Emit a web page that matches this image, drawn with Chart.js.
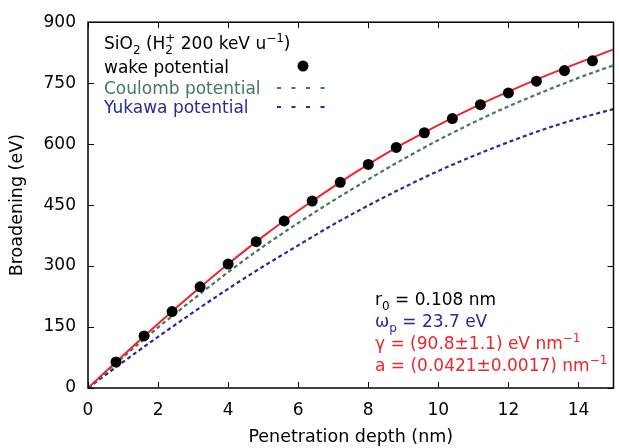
<!DOCTYPE html>
<html><head><meta charset="utf-8">
<script src="https://cdn.jsdelivr.net/npm/chart.js@4.4.1/dist/chart.umd.min.js"></script>
<style>html,body{margin:0;padding:0;background:#fff;} #wrap{width:619px;height:448px;}</style>
</head><body><div id="wrap"><canvas id="c" width="619" height="448"></canvas></div>
<script>
// ---- data ----
const curveX   = [0, 1, 2, 3, 4, 5, 6, 7, 8, 9, 10, 11, 12, 13, 14, 15];
const fitWake  = [0, 80, 158, 233, 305, 373, 436, 495, 550, 601, 647, 690, 729, 766, 800, 833];
const coulomb  = [0, 76, 149, 218, 285, 348, 406, 461, 513, 563, 610, 653, 693, 729, 763, 794];
const yukawa   = [0, 64, 126, 186, 244, 299, 351, 402, 449, 493, 534, 571, 605, 636, 663, 686];
const depthPts = [0.8, 1.6, 2.4, 3.2, 4.0, 4.8, 5.6, 6.4, 7.2, 8.0, 8.8, 9.6, 10.4, 11.2, 12.0, 12.8, 13.6, 14.4];
const wakePts  = [64, 128, 188, 249, 305, 360, 411, 460, 506, 550, 592, 628, 663, 697, 726, 755, 781, 805];
const xTicks   = [0, 2, 4, 6, 8, 10, 12, 14];
const yTicks   = [0, 150, 300, 450, 600, 750, 900];

const RED = 'rgb(238,38,44)', GREEN = 'rgb(72,120,90)', BLUE = 'rgb(42,42,150)';
const FAM = '"DejaVu Sans", sans-serif';

function rich(ctx, x, y, parts, color) {
  ctx.fillStyle = color;
  ctx.textBaseline = 'alphabetic';
  ctx.textAlign = 'left';
  let cx = x;
  for (const p of parts) {
    const [t, mode] = p;
    if (mode === 'supsub') {
      ctx.font = '12px ' + FAM;
      const w1 = ctx.measureText(t[0]).width, w2 = ctx.measureText(t[1]).width;
      ctx.fillText(t[0], cx, y - 7);
      ctx.fillText(t[1], cx, y + 5);
      cx += Math.max(w1, w2);
    } else if (mode === 'sub') {
      ctx.font = '12px ' + FAM;
      ctx.fillText(t, cx, y + 5);
      cx += ctx.measureText(t).width;
    } else if (mode === 'sup') {
      ctx.font = '12px ' + FAM;
      ctx.fillText(t, cx, y - 7);
      cx += ctx.measureText(t).width;
    } else {
      ctx.font = '17px ' + FAM;
      ctx.fillText(t, cx, y);
      cx += ctx.measureText(t).width;
    }
  }
  return cx;
}

const framePlugin = {
  id: 'frame',
  afterDraw(chart) {
    const {ctx, chartArea: a, scales} = chart;
    ctx.save();
    ctx.strokeStyle = '#000';
    ctx.lineWidth = 1.5;
    ctx.strokeRect(a.left, a.top, a.right - a.left, a.bottom - a.top);
    ctx.lineWidth = 1;
    const L = 6;
    ctx.beginPath();
    for (const v of xTicks) {
      const px = Math.round(scales.x.getPixelForValue(v)) + 0.5;
      ctx.moveTo(px, a.bottom); ctx.lineTo(px, a.bottom - L);
      ctx.moveTo(px, a.top); ctx.lineTo(px, a.top + L);
    }
    for (const v of yTicks) {
      const py = Math.round(scales.y.getPixelForValue(v)) + 0.5;
      ctx.moveTo(a.left, py); ctx.lineTo(a.left + L, py);
      ctx.moveTo(a.right, py); ctx.lineTo(a.right - L, py);
    }
    ctx.stroke();

    // key
    const kx = 104;
    rich(ctx, kx, 49, [['SiO',''],['2','sub'],[' (H',''],[['+','2'],'supsub'],[' 200 keV u',''],['\u22121','sup'],[')','']], '#000');
    rich(ctx, kx, 72.5, [['wake potential','']], '#000');
    rich(ctx, kx, 93.5, [['Coulomb potential','']], GREEN);
    rich(ctx, kx, 113, [['Yukawa potential','']], BLUE);
    ctx.fillStyle = '#000';
    ctx.beginPath(); ctx.arc(303, 66, 5.5, 0, Math.PI * 2); ctx.fill();
    ctx.lineWidth = 1.8;
    for (const [yy, col] of [[88, GREEN], [107, BLUE]]) {
      ctx.strokeStyle = col;
      ctx.beginPath();
      for (let i = 0; i < 4; i++) {
        const sx = 277 + i * 14.5;
        ctx.moveTo(sx, yy); ctx.lineTo(sx + 4, yy);
      }
      ctx.stroke();
    }

    // parameters
    const ax = 375;
    rich(ctx, ax, 305, [['r',''],['0','sub'],[' = 0.108 nm','']], '#000');
    rich(ctx, ax, 326.7, [['\u03c9',''],['p','sub'],[' = 23.7 eV','']], BLUE);
    rich(ctx, ax, 349, [['\u03b3 = (90.8\u00b11.1) eV nm',''],['\u22121','sup']], RED);
    rich(ctx, ax, 370.7, [['a = (0.0421\u00b10.0017) nm',''],['\u22121','sup']], RED);
    ctx.restore();
  }
};

const pts = (xs, ys) => xs.map((x, i) => ({x: x, y: ys[i]}));

new Chart(document.getElementById('c').getContext('2d'), {
  type: 'scatter',
  data: {
    datasets: [
      {label: 'wake potential', data: pts(depthPts, wakePts), showLine: false,
       pointRadius: 5.5, pointBackgroundColor: '#000', pointBorderWidth: 0, order: 0},
      {label: 'fit', data: pts(curveX, fitWake), showLine: true, borderColor: RED, borderWidth: 2,
       pointRadius: 0, cubicInterpolationMode: 'monotone', order: 1},
      {label: 'Coulomb potential', data: pts(curveX, coulomb), showLine: true, borderColor: GREEN,
       borderWidth: 2.2, borderDash: [4, 3], pointRadius: 0, cubicInterpolationMode: 'monotone', order: 2},
      {label: 'Yukawa potential', data: pts(curveX, yukawa), showLine: true, borderColor: BLUE,
       borderWidth: 2.2, borderDash: [4, 3], pointRadius: 0, cubicInterpolationMode: 'monotone', order: 3}
    ]
  },
  options: {
    responsive: false, animation: false, devicePixelRatio: 1,
    layout: {padding: {top: 20, right: 1, left: 0, bottom: 0}},
    plugins: {legend: {display: false}, tooltip: {enabled: false}},
    scales: {
      x: {
        type: 'linear', min: 0, max: 15,
        grid: {display: false, drawTicks: false}, border: {display: false},
        afterBuildTicks: s => { s.ticks = xTicks.map(v => ({value: v})); },
        afterFit: s => { s.height = 60; },
        ticks: {padding: 12, color: '#000', font: {family: FAM, size: 17}, maxRotation: 0, autoSkip: false},
        title: {display: true, text: 'Penetration depth (nm)', color: '#000',
                font: {family: FAM, size: 17.5}, padding: {top: 0, bottom: 0}}
      },
      y: {
        type: 'linear', min: 0, max: 900,
        grid: {display: false, drawTicks: false}, border: {display: false},
        afterBuildTicks: s => { s.ticks = yTicks.map(v => ({value: v})); },
        afterFit: s => { s.width = 88; },
        ticks: {padding: 12, color: '#000', font: {family: FAM, size: 17}, autoSkip: false},
        title: {display: true, text: 'Broadening (eV)', color: '#000',
                font: {family: FAM, size: 17.5}, padding: {top: 7, bottom: 0}}
      }
    }
  },
  plugins: [framePlugin]
});
</script>
</body></html>
